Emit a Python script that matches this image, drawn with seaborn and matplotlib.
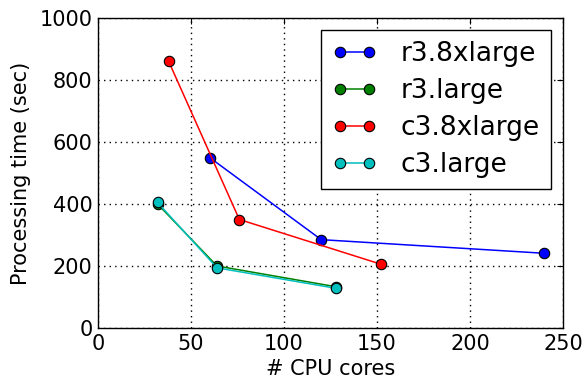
import matplotlib
matplotlib.use("Agg")
import matplotlib.pyplot as plt
import seaborn as sns
import pandas as pd

instances = ["r3.8xlarge", "r3.large", "c3.8xlarge", "c3.large"]
colors = ["#0000ff", "#008000", "#ff0000", "#00bfbf"]

r3_8x_cores = [60, 120, 240]
r3_8x_time = [550, 285, 241]
r3_l_cores = [32, 64, 128]
r3_l_time = [400, 200, 133]
c3_8x_cores = [38, 76, 152]
c3_8x_time = [860, 350, 206]
c3_l_cores = [32, 64, 128]
c3_l_time = [405, 194, 128]

series = {
    "r3.8xlarge": (r3_8x_cores, r3_8x_time),
    "r3.large": (r3_l_cores, r3_l_time),
    "c3.8xlarge": (c3_8x_cores, c3_8x_time),
    "c3.large": (c3_l_cores, c3_l_time),
}
rows = []
for name, (xs, ys) in series.items():
    for x, y in zip(xs, ys):
        rows.append({"cores": x, "time": y, "instance": name})
df = pd.DataFrame(rows)

sns.set_style("white")
plt.rcParams["font.family"] = ["DejaVu Sans"]
plt.rcParams["xtick.direction"] = "in"
plt.rcParams["ytick.direction"] = "in"
plt.rcParams["text.color"] = "black"
plt.rcParams["axes.labelcolor"] = "black"
plt.rcParams["xtick.color"] = "black"
plt.rcParams["ytick.color"] = "black"

fig = plt.figure(figsize=(5.84, 3.83), dpi=100)
ax = fig.add_axes([98 / 584, 55 / 383, 465 / 584, 310 / 383])

sns.lineplot(data=df, x="cores", y="time", hue="instance", hue_order=instances,
             palette=colors, marker="o", markersize=7.5, markeredgecolor="black",
             markeredgewidth=0.8, linewidth=1.1, sort=False, ax=ax)

ax.set_xlim(0, 250)
ax.set_ylim(0, 1000)
ax.set_xticks([0, 50, 100, 150, 200, 250])
ax.set_yticks([0, 200, 400, 600, 800, 1000])
ax.grid(True, color="black", linestyle=(0, (1, 3)), linewidth=1)
ax.tick_params(labelsize=15, length=4, width=0.8, top=True, right=True, pad=4)
for s in ax.spines.values():
    s.set_color("black")
    s.set_linewidth(1)
ax.set_xlabel("# CPU cores", fontsize=15, labelpad=4)
ax.set_ylabel("Processing time (sec)", fontsize=15, labelpad=6)

leg = ax.legend(loc="upper right", fontsize=19, numpoints=2, fancybox=False,
                framealpha=1, edgecolor="black", borderaxespad=0.45,
                handlelength=1.7, labelspacing=0.42, handletextpad=0.9,
                borderpad=0.42)
leg.get_frame().set_linewidth(1)
for h in leg.legend_handles:
    h.set_marker("o")
    h.set_markeredgecolor("black")
    h.set_markeredgewidth(0.8)
    h.set_markersize(7.5)

fig.savefig("out.png", dpi=100)
